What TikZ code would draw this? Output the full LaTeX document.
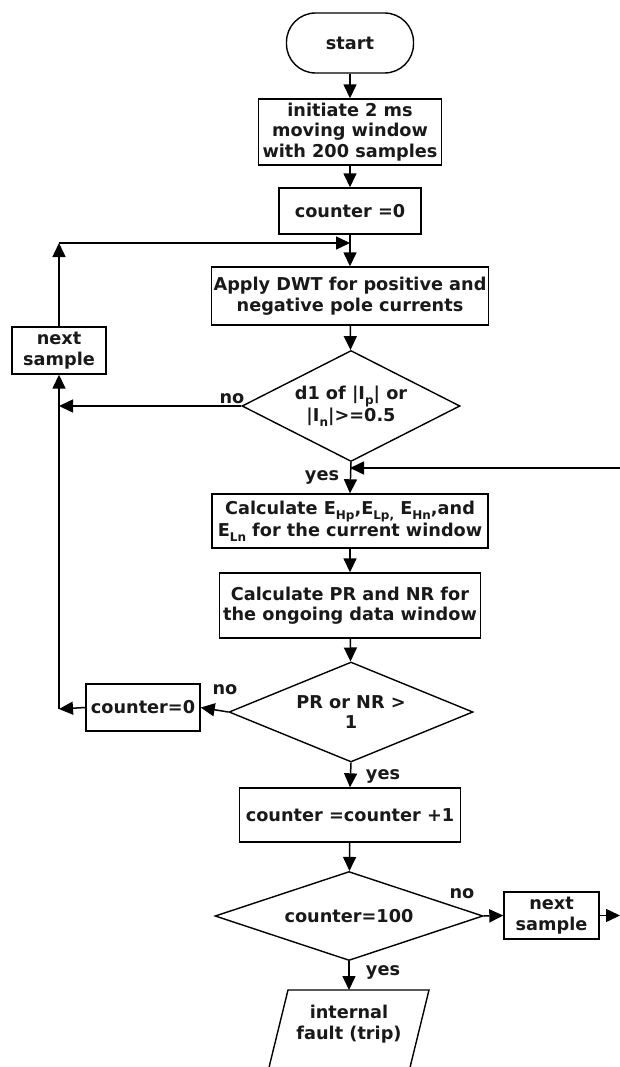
\documentclass[tikz,border=0pt]{standalone}
\usepackage{fontspec}
\setmainfont{DejaVu Sans}
\usetikzlibrary{shapes.geometric,arrows.meta}
\newcommand{\lowsub}[1]{\raisebox{-0.5ex}{\fontsize{12}{12}\selectfont #1}}
\begin{document}
\begin{tikzpicture}[x=1pt,y=-1pt,
  every node/.style={font=\bfseries\fontsize{17.7}{20.5}\selectfont, align=center, text=black!90},
  box/.style={draw, line width=1.4pt, inner sep=0pt},
  decision/.style={diamond, draw, line width=1.4pt, inner sep=0pt},
  arr/.style={-{Triangle[length=14pt,width=13pt]}, line width=1.5pt},
  ln/.style={line width=1.4pt},
  lbl/.style={inner sep=0pt}]
\clip (0,0) rectangle (620,1067);
\fill[white] (0,0) rectangle (620,1067);

\node[box, rounded corners=29pt, minimum width=127, minimum height=60] (start) at (350,43) {start};
\node[box, minimum width=183, minimum height=66] (init) at (350,132) {initiate 2 ms\\moving window\\with 200 samples};
\node[box, minimum width=142, minimum height=46] (cnt0) at (350,211) {counter =0};
\node[box, minimum width=277, minimum height=58] (apply) at (350,296) {Apply DWT for positive and\\negative pole currents};
\node[decision, aspect=2, minimum width=218, minimum height=111] (d1) at (351,406) {d1 of |I\lowsub{p}| or\\|I\lowsub{n}|>=0.5};
\node[box, minimum width=94, minimum height=47] (nsL) at (59,350.5) {next\\sample};
\node[box, minimum width=276, minimum height=54] (calcE) at (350,521) {Calculate E\lowsub{Hp},E\lowsub{Lp,} E\lowsub{Hn},and\\E\lowsub{Ln} for the current window};
\node[box, minimum width=261, minimum height=65] (calcPR) at (350,605.5) {Calculate PR and NR for\\the ongoing data window};
\node[decision, aspect=2.4, minimum width=244, minimum height=100] (d2) at (351,712) {PR or NR >\\1};
\node[box, minimum width=114, minimum height=47] (c0b) at (143,707.5) {counter=0};
\node[box, minimum width=221, minimum height=54] (cplus) at (350,815) {counter =counter +1};
\node[decision, aspect=3, minimum width=268, minimum height=89] (d3) at (349,916) {counter=100};
\node[box, minimum width=95, minimum height=47] (nsR) at (551.5,915.5) {next\\sample};

% parallelogram (cut off by the picture edge)
\draw[ln] (261,1100) -- (288,990) -- (429,990) -- (402,1100);
\node (trip) at (349,1024) {internal\\fault (trip)};
\coordinate (triptop) at (349,990);

% joints and free ends
\coordinate (J1) at (350,243);
\coordinate (C1) at (59,243);
\coordinate (C2) at (59,406);
\coordinate (C3) at (59,709);
\coordinate (J2) at (350,468);
\coordinate (E1) at (620,468);
\coordinate (E2) at (620,915.5);

\draw[arr] (start) -- (init);
\draw[arr] (init) -- (cnt0);
\draw[arr] (cnt0) -- (apply);
\draw[arr] (nsL.north) -- (C1);
\draw[arr] (C1) -- (J1);
\draw[arr] (apply) -- (d1);
\draw[arr] (d1.west) -- (C2);
\draw[arr] (C3) -- (nsL.south);
\draw[arr] (d1.south) -- (calcE.north);
\draw[arr] (E1) -- (J2);
\draw[arr] (calcE) -- (calcPR);
\draw[arr] (calcPR) -- (d2);
\draw[arr] (d2.west) -- (c0b.east);
\draw[arr] (c0b.west) -- (C3);
\draw[arr] (d2.south) -- (cplus.north);
\draw[arr] (cplus) -- (d3);
\draw[arr] (d3.east) -- (nsR.west);
\draw[arr] (nsR.east) -- (E2);
\draw[arr] (d3.south) -- (triptop);

\node[lbl] (no1) at (232,399) {no};
\node[lbl] (yes1) at (322,477) {yes};
\node[lbl] (no2) at (225,690) {no};
\node[lbl] (yes2) at (383,776) {yes};
\node[lbl] (no3) at (462,894) {no};
\node[lbl] (yes3) at (383,972) {yes};
\end{tikzpicture}
\end{document}
